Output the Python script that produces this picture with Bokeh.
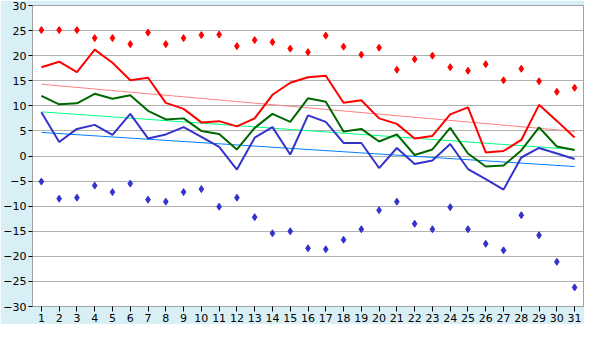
from bokeh.plotting import figure
from bokeh.models import FixedTicker
from bokeh.embed import file_html
from bokeh.resources import INLINE

days = list(range(1, 32))
tmax = [17.7, 18.8, 16.7, 21.2, 18.6, 15.1, 15.6, 10.6, 9.4, 6.7, 6.95, 5.9, 7.5, 12.2, 14.6,
        15.7, 16.0, 10.6, 11.1, 7.5, 6.4, 3.5, 4.0, 8.3, 9.7, 0.7, 1.0, 3.2, 10.2, 7.0, 3.7]
tmean = [12.0, 10.3, 10.5, 12.4, 11.4, 12.1, 9.0, 7.3, 7.5, 5.0, 4.4, 1.3, 5.6, 8.4, 6.8,
         11.5, 10.8, 4.9, 5.4, 2.9, 4.3, 0.2, 1.3, 5.6, 0.5, -2.1, -1.9, 1.1, 5.7, 1.9, 1.2]
tmin = [8.7, 2.8, 5.4, 6.2, 4.2, 8.4, 3.5, 4.3, 5.75, 3.8, 1.8, -2.7, 3.65, 5.75, 0.3,
        8.1, 6.8, 2.6, 2.6, -2.4, 1.6, -1.6, -0.9, 2.4, -2.6, -4.6, -6.7, -0.3, 1.6, 0.5, -0.6]
rec_high = [25.1, 25.1, 25.1, 23.5, 23.5, 22.3, 24.6, 22.3, 23.5, 24.1, 24.2, 21.9, 23.1, 22.7, 21.4,
            20.7, 24.0, 21.8, 20.2, 21.6, 17.2, 19.3, 20.0, 17.7, 17.0, 18.3, 15.1, 17.4, 14.9, 12.8, 13.6]
rec_low = [-5.1, -8.5, -8.3, -5.9, -7.2, -5.5, -8.7, -9.1, -7.2, -6.6, -10.1, -8.3, -12.2, -15.4, -15.0,
           -18.4, -18.6, -16.7, -14.6, -10.8, -9.1, -13.5, -14.6, -10.2, -14.6, -17.5, -18.8, -11.8, -15.8, -21.1, -26.2]
# long-term trend lines (value at first and last day)
trend_days = [1, 31]
trend_max = [14.3, 4.9]
trend_mean = [8.8, 1.3]
trend_min = [4.7, -2.1]
y_ticks = list(range(-30, 31, 5))

p = figure(width=584, height=324, x_range=(0.5, 31.5), y_range=(-30, 30),
           output_backend="svg", toolbar_location=None,
           background_fill_color="white", border_fill_color="#d9eff6",
           min_border_top=5, min_border_right=1, min_border_left=0, min_border_bottom=0)

p.outline_line_color = "#a0a0a0"
p.xgrid.visible = False
p.ygrid.grid_line_color = "#b0b0b0"
p.ygrid.ticker = FixedTicker(ticks=y_ticks)

p.xaxis.ticker = FixedTicker(ticks=days)
p.yaxis.ticker = FixedTicker(ticks=y_ticks)
for ax in (p.xaxis, p.yaxis):
    ax.axis_line_color = "#a0a0a0"
    ax.major_tick_line_color = "black"
    ax.minor_tick_line_color = None
    ax.major_tick_in = 0
    ax.major_label_text_font = "DejaVu Sans"
    ax.major_label_text_font_size = "11px"
    ax.major_label_text_color = "black"
p.xaxis.major_tick_out = 5
p.yaxis.major_tick_out = 4
p.xaxis.major_label_standoff = 2
p.yaxis.major_label_standoff = 2

p.line(trend_days, trend_max, line_color="#ff8080", line_width=1)
p.line(trend_days, trend_mean, line_color="#00ff80", line_width=1)
p.line(trend_days, trend_min, line_color="#0080ff", line_width=1)

p.line(days, tmax, line_color="#ff0000", line_width=2)
p.line(days, tmean, line_color="#006600", line_width=2)
p.line(days, tmin, line_color="#3333cc", line_width=2)

p.scatter(days, rec_high, marker="diamond", size=7, fill_color="#ff0000", line_color="#ff0000")
p.scatter(days, rec_low, marker="diamond", size=7, fill_color="#3333cc", line_color="#3333cc")

open("out.html", "w").write(file_html(p, INLINE))
